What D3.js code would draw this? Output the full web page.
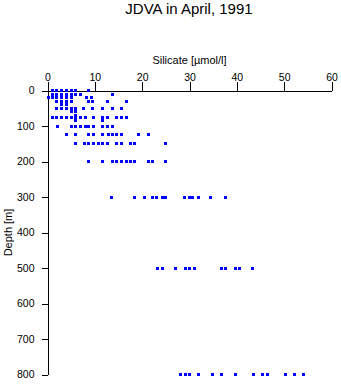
<!DOCTYPE html>
<html>
<head>
<meta charset="utf-8">
<script src="https://cdn.jsdelivr.net/npm/d3@7/dist/d3.min.js"></script>
<style>
  html, body { margin: 0; padding: 0; background: #fff; }
  svg { display: block; font-family: "Liberation Sans", Arial, Helvetica, sans-serif; }
</style>
</head>
<body>
<svg id="chart" width="341" height="384"></svg>
<script>
// Sampling depths (m) and silicate concentrations (µmol/l) measured at each depth
const depths = [0, 10, 20, 30, 40, 50, 60, 70, 75, 80, 85, 100, 125, 150, 200, 300, 500, 800];
const silicateByDepth = [
  [1.0, 2.0, 3.0, 4.0, 5.0, 6.0, 8.7],
  [1.0, 2.0, 3.0, 4.0, 5.0, 6.0, 7.0, 13.7],
  [0.2, 1.0, 2.0, 3.0, 4.0, 5.0, 8.3, 9.3],
  [2.0, 3.0, 4.0, 5.0, 8.7, 9.6, 12.7, 16.6],
  [3.0, 4.0],
  [2.0, 3.0, 4.0, 5.0, 6.0, 7.7, 9.6, 11.7, 13.7, 15.6],
  [5.0, 6.0],
  [6.0],
  [1.0, 2.0, 3.0, 4.0, 5.0, 6.0, 7.0, 8.0, 9.7, 11.7, 12.7, 14.6, 15.6, 16.6],
  [11.7],
  [6.0, 11.7],
  [2.1, 5.0, 6.0, 7.0, 8.0, 8.7, 9.7, 11.7, 12.7, 13.7],
  [4.0, 5.9, 8.7, 9.7, 11.7, 12.8, 13.7, 14.6, 15.6, 19.3, 21.3],
  [6.0, 7.8, 8.7, 9.7, 10.7, 11.7, 12.7, 14.6, 15.6, 17.5, 18.3, 25.0],
  [8.7, 11.7, 13.7, 14.6, 15.6, 16.6, 17.6, 18.4, 21.3, 22.2, 25.0],
  [13.6, 18.4, 20.4, 22.1, 23.1, 24.2, 25.0, 29.0, 29.9, 30.7, 32.0, 34.5, 37.7],
  [23.2, 24.2, 27.0, 29.1, 30.0, 31.0, 36.7, 37.7, 39.7, 40.5, 43.4],
  [28.1, 29.1, 29.9, 32.0, 34.8, 36.7, 39.7, 43.5, 45.5, 46.4, 50.2, 52.1, 54.0]
];
const xTicks = [0, 10, 20, 30, 40, 50, 60];
const yTicks = [0, 100, 200, 300, 400, 500, 600, 700, 800];
const titleText = "JDVA in April, 1991";
const xLabel = "Silicate [µmol/l]";
const yLabel = "Depth [m]";

const points = [];
depths.forEach((d, i) => silicateByDepth[i].forEach(s => points.push({ depth: d, si: s })));

const svg = d3.select("#chart");

const x = d3.scaleLinear().domain([0, 60]).range([47.5, 331.5]);
const y = d3.scaleLinear().domain([0, 800]).range([90.5, 374.5]);

// Title
svg.append("text")
  .attr("x", 189).attr("y", 13.5)
  .attr("text-anchor", "middle")
  .attr("font-size", "15px")
  .attr("fill", "#000")
  .text(titleText);

// Silicate axis along the top
const xAxis = svg.append("g")
  .attr("transform", `translate(0,${y(0)})`)
  .call(d3.axisTop(x).tickValues(xTicks).tickSize(9).tickSizeOuter(0).tickPadding(1));
xAxis.selectAll("text").attr("font-size", "10.5px").attr("font-family", null).attr("fill", "#000");
xAxis.selectAll("line, path").attr("stroke", "#000").attr("shape-rendering", "crispEdges");

// Depth axis on the left, increasing downward
const yAxis = svg.append("g")
  .attr("transform", `translate(${x(0)},0)`)
  .call(d3.axisLeft(y).tickValues(yTicks).tickSize(6).tickSizeOuter(0).tickPadding(7));
yAxis.selectAll("text").attr("font-size", "10.5px").attr("font-family", null).attr("fill", "#000");
yAxis.selectAll("line, path").attr("stroke", "#000").attr("shape-rendering", "crispEdges");
svg.selectAll(".domain").attr("stroke", "#000");

// Axis titles
svg.append("text")
  .attr("x", 189.5).attr("y", 64)
  .attr("text-anchor", "middle")
  .attr("font-size", "11px")
  .text(xLabel);

svg.append("text")
  .attr("transform", `translate(12,${(y(0) + y(800)) / 2}) rotate(-90)`)
  .attr("text-anchor", "middle")
  .attr("font-size", "11px")
  .text(yLabel);

// Sample markers: small filled squares
const m = 3;
svg.append("g")
  .selectAll("rect")
  .data(points)
  .join("rect")
  .attr("x", d => Math.round(x(d.si) - m / 2))
  .attr("y", d => Math.round(y(d.depth) - m / 2))
  .attr("width", m)
  .attr("height", m)
  .attr("fill", "#0000ff")
  .attr("shape-rendering", "crispEdges");
</script>
</body>
</html>
